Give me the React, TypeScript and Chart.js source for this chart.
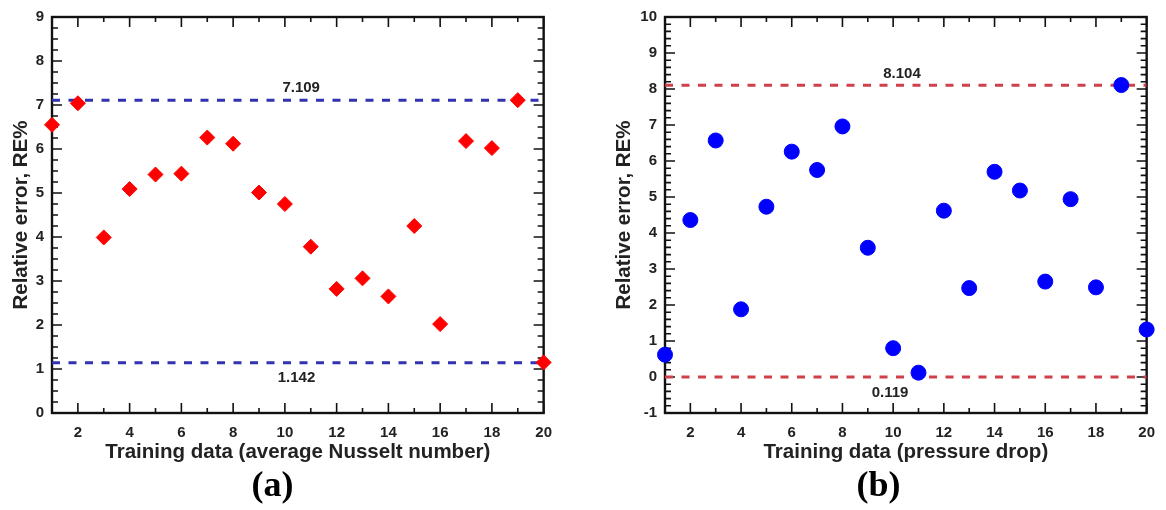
import React, { useEffect, useRef } from 'react';
import { Chart, registerables } from 'chart.js';

Chart.register(...registerables);

// ---------- data ----------
const trainingIndex = [1, 2, 3, 4, 5, 6, 7, 8, 9, 10, 11, 12, 13, 14, 15, 16, 17, 18, 19, 20];
const nusseltErrors = [6.55, 7.04, 3.99, 5.09, 5.42, 5.44, 6.26, 6.12, 5.01, 4.75, 3.78, 2.82, 3.06, 2.65, 4.25, 2.02, 6.18, 6.02, 7.11, 1.15];
const pressureErrors = [0.62, 4.36, 6.57, 1.88, 4.73, 6.26, 5.75, 6.96, 3.59, 0.8, 0.12, 4.62, 2.47, 5.7, 5.18, 2.65, 4.94, 2.49, 8.11, 1.32];
const nusseltLimits = [7.109, 1.142];
const nusseltLimitLabels = ['7.109', '1.142'];
const pressureLimits = [8.104, 0.0];
const pressureLimitLabels = ['8.104', '0.119'];
const nusseltTitle = 'Training data (average Nusselt number)';
const pressureTitle = 'Training data (pressure drop)';
const yTitle = 'Relative error, RE%';

const SANS = "'Liberation Sans', Arial, sans-serif";
const SERIF = "'Liberation Serif', 'Times New Roman', serif";

const isWhole = (v: number) => Math.abs(v - Math.round(v)) < 1e-6;

const framePlugin = {
  id: 'frame',
  beforeDatasetsDraw(chart: any) {
    const { ctx, chartArea: a, scales } = chart;
    const x = scales.x;
    const y = scales.y;
    ctx.save();
    ctx.strokeStyle = '#111';
    ctx.lineWidth = 1.6;
    ctx.beginPath();
    x.ticks.forEach((t: any) => {
      const px = x.getPixelForValue(t.value);
      const len = Math.round(t.value) % 2 === 0 ? 10 : 5;
      ctx.moveTo(px, a.bottom);
      ctx.lineTo(px, a.bottom - len);
      ctx.moveTo(px, a.top);
      ctx.lineTo(px, a.top + len);
    });
    y.ticks.forEach((t: any) => {
      const py = y.getPixelForValue(t.value);
      const len = isWhole(t.value) ? 10 : 6;
      ctx.moveTo(a.left, py);
      ctx.lineTo(a.left + len, py);
      ctx.moveTo(a.right, py);
      ctx.lineTo(a.right - len, py);
    });
    ctx.stroke();
    ctx.lineWidth = 2.4;
    ctx.strokeRect(a.left, a.top, a.right - a.left, a.bottom - a.top);
    ctx.restore();
  },
};

const limitLabelPlugin = {
  id: 'limitLabels',
  afterDatasetsDraw(chart: any, _args: any, opts: any) {
    const { ctx, scales } = chart;
    const x = scales.x;
    const y = scales.y;
    ctx.save();
    ctx.font = `bold 15px ${SANS}`;
    ctx.fillStyle = '#222';
    ctx.textAlign = 'center';
    ctx.textBaseline = 'middle';
    (opts.items || []).forEach((it: any) => {
      ctx.fillText(it.text, x.getPixelForValue(it.x), y.getPixelForValue(it.value) + it.dy);
    });
    ctx.restore();
  },
};

interface PanelProps {
  values: number[];
  limits: number[];
  limitTexts: string[];
  labelXs: number[];
  labelDy: number[];
  xTitle: string;
  yMin: number;
  yMax: number;
  yStep: number;
  yWidth: number;
  yTitlePad: number;
  padRight: number;
  panelTitle: string;
  pointStyle: string;
  pointColor: string;
  lineColor: string;
}

function Panel(p: PanelProps) {
  const ref = useRef<HTMLCanvasElement | null>(null);
  useEffect(() => {
    if (!ref.current) return;
    const tickFont = { family: SANS, weight: 'bold' as const, size: 15 };
    const pts = trainingIndex.map((xv, i) => ({ x: xv, y: p.values[i] }));
    const lineSets = p.limits.map((v) => ({
      type: 'line' as const,
      data: [
        { x: trainingIndex[0], y: v },
        { x: trainingIndex[trainingIndex.length - 1], y: v },
      ],
      borderColor: p.lineColor,
      borderWidth: 3,
      borderDash: [8, 8.5],
      pointRadius: 0,
      fill: false,
      showLine: true,
    }));
    const chart = new Chart(ref.current, {
      type: 'scatter',
      data: {
        datasets: [
          {
            data: pts,
            pointStyle: p.pointStyle as any,
            pointRadius: 7.5,
            backgroundColor: p.pointColor,
            borderColor: p.pointColor,
            borderWidth: 1,
            clip: false as any,
          },
          ...(lineSets as any[]),
        ],
      },
      options: {
        animation: false,
        responsive: true,
        maintainAspectRatio: false,
        layout: { padding: { top: 10, right: p.padRight, bottom: 5, left: 0 } },
        plugins: {
          legend: { display: false },
          tooltip: { enabled: false },
          title: {
            display: true,
            text: p.panelTitle,
            position: 'bottom',
            color: '#000',
            font: { family: SERIF, weight: 'bold', size: 36, lineHeight: 1 },
            padding: { top: 0, bottom: 0 },
          },
          limitLabels: {
            items: p.limits.map((v, i) => ({ value: v, text: p.limitTexts[i], x: p.labelXs[i], dy: p.labelDy[i] })),
          },
        } as any,
        scales: {
          x: {
            type: 'linear',
            min: 1,
            max: 20,
            grid: { display: false, drawTicks: false },
            border: { display: false },
            ticks: {
              stepSize: 1,
              autoSkip: false,
              maxRotation: 0,
              padding: 11,
              color: '#222',
              font: tickFont,
              callback: (v: any) => (Math.round(v) % 2 === 0 ? String(v) : ''),
            },
            title: {
              display: true,
              text: p.xTitle,
              color: '#222',
              font: { family: SANS, weight: 'bold', size: 20.5 },
              padding: { top: 4, bottom: 4 },
            },
            afterFit: (s: any) => {
              s.height = 56;
            },
          },
          y: {
            type: 'linear',
            min: p.yMin,
            max: p.yMax,
            grid: { display: false, drawTicks: false },
            border: { display: false },
            ticks: {
              stepSize: p.yStep,
              autoSkip: false,
              padding: 8,
              color: '#222',
              font: tickFont,
              callback: (v: any) => (isWhole(v) ? String(Math.round(v)) : ''),
            },
            title: {
              display: true,
              text: yTitle,
              color: '#222',
              font: { family: SANS, weight: 'bold', size: 20.5 },
              padding: { top: p.yTitlePad, bottom: 4 },
            },
            afterFit: (s: any) => {
              s.width = p.yWidth;
            },
          },
        },
      },
      plugins: [framePlugin, limitLabelPlugin],
    });
    return () => chart.destroy();
  }, []);
  return <canvas ref={ref} />;
}

export default function App() {
  return (
    <div style={{ position: 'absolute', left: 0, top: 0, width: 1166, height: 510, background: '#fff' }}>
      <div style={{ position: 'absolute', left: 0, top: 0, width: 563, height: 510 }}>
        <Panel
          values={nusseltErrors}
          limits={nusseltLimits}
          limitTexts={nusseltLimitLabels}
          labelXs={[10.63, 10.45]}
          labelDy={[-12, 15]}
          xTitle={nusseltTitle}
          yMin={0}
          yMax={9}
          yStep={0.25}
          yWidth={52}
          yTitlePad={9}
          padRight={18}
          panelTitle="(a)"
          pointStyle="rectRot"
          pointColor="#ff0000"
          lineColor="#3232b0"
        />
      </div>
      <div style={{ position: 'absolute', left: 604, top: 0, width: 562, height: 510 }}>
        <Panel
          values={pressureErrors}
          limits={pressureLimits}
          limitTexts={pressureLimitLabels}
          labelXs={[10.35, 9.88]}
          labelDy={[-11, 16]}
          xTitle={pressureTitle}
          yMin={-1}
          yMax={10}
          yStep={0.2}
          yWidth={61}
          yTitlePad={8}
          padRight={13}
          panelTitle="(b)"
          pointStyle="circle"
          pointColor="#0000ff"
          lineColor="#d04048"
        />
      </div>
    </div>
  );
}
